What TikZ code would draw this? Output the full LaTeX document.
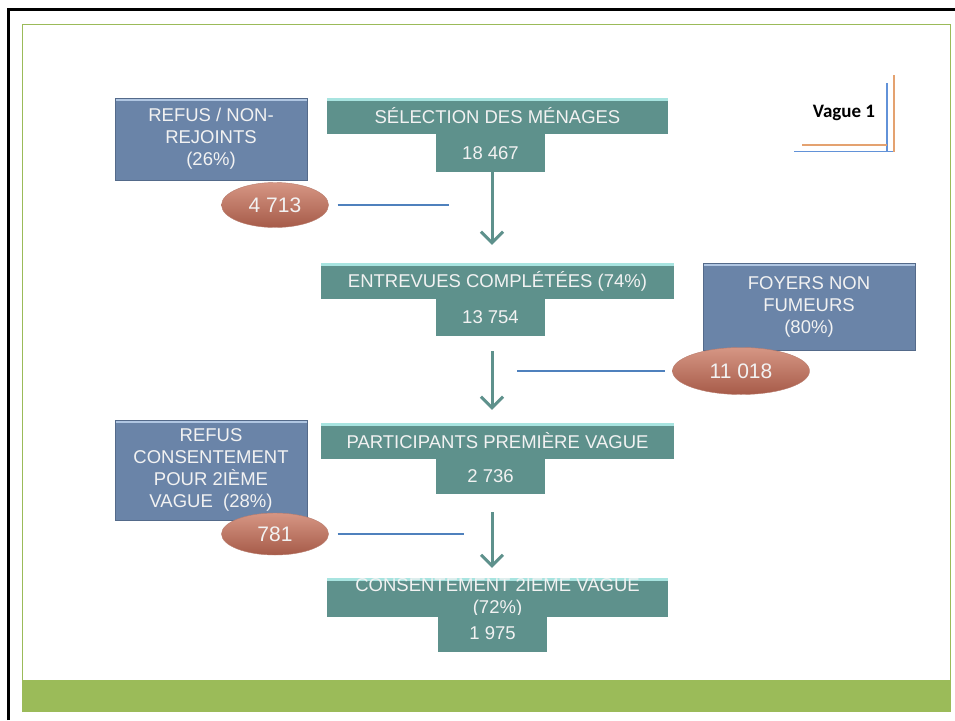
\documentclass[tikz,border=0pt]{standalone}
\usepackage{fontspec}
\setmainfont{Liberation Sans}
\newfontfamily\vaguefont{Carlito}
\usepackage{tikz}
\usetikzlibrary{arrows.meta,shapes.geometric,calc}
\definecolor{box_blue}{RGB}{106, 132, 168}
\definecolor{box_blue_light}{RGB}{176, 198, 226}
\definecolor{box_blue_dark}{RGB}{84, 106, 138}
\definecolor{band_teal}{RGB}{94, 145, 140}
\definecolor{band_teal_light}{RGB}{168, 228, 224}
\definecolor{ell_red}{RGB}{166, 91, 73}
\definecolor{ell_red_light}{RGB}{214, 150, 132}
\definecolor{link_blue}{RGB}{79, 129, 189}
\definecolor{frame_green}{RGB}{155, 187, 89}
\definecolor{tab_orange}{RGB}{228, 162, 112}
\definecolor{tab_blue}{RGB}{98, 146, 216}
\tikzstyle{bb}=[rectangle,fill=box_blue,draw=box_blue_dark,line width=0.6pt,
  text=white!95!black,inner sep=0pt,align=center,
  font=\fontsize{18.5}{22}\selectfont,
  path picture={\fill[box_blue_light] (path picture bounding box.north west)
    rectangle ([yshift=-3pt]path picture bounding box.north east);}]
\tikzstyle{tb}=[rectangle,fill=band_teal,inner sep=0pt,text=white!95!black,
  font=\fontsize{18.5}{22}\selectfont,align=center,
  path picture={\fill[band_teal_light] (path picture bounding box.north west)
    rectangle ([yshift=-3pt]path picture bounding box.north east);}]
\tikzstyle{nb}=[rectangle,fill=band_teal,inner sep=0pt,text=white!95!black,
  font=\fontsize{18.5}{22}\selectfont,minimum width=109pt]
\tikzstyle{el}=[ellipse,top color=ell_red_light,middle color=ell_red,
  bottom color=ell_red,draw=ell_red!80!white,inner sep=0pt,
  text=white!95!black,font=\fontsize{21}{24}\selectfont]
\tikzstyle{link}=[draw=link_blue,line width=2.5pt]
\tikzstyle{flow}=[draw=band_teal,line width=3pt,
  -{Straight Barb[length=11pt,width=22pt]}]
\tikzstyle{none}=[]

\begin{document}
\begin{tikzpicture}[x=1pt, y=-1pt]
            \useasboundingbox (0, 0) rectangle (955, 720);
            \fill [white] (0, 0) rectangle (955, 720);
            \draw [line width=3pt] (8, 720) -- (8, 9) -- (955, 9);
            \draw [frame_green, line width=1pt] (22.5, 712) -- (22.5, 24.5) -- (950.5, 24.5) -- (950.5, 712);
            \fill [frame_green] (22, 680) rectangle (951, 712);
            \node [style=bb, minimum width=192pt, minimum height=82pt] (0) at (211, 139) {REFUS / NON-\\REJOINTS\\(26\%)};
            \node [style=tb, minimum width=341pt, minimum height=36pt] (1) at (497.5, 116) {SÉLECTION DES MÉNAGES};
            \node [style=nb, minimum height=38pt] (2) at (490.5, 153) {18 467};
            \node [style=el, minimum width=107pt, minimum height=45pt] (3) at (275, 205) {4 713};
            \node [style=tb, minimum width=353pt, minimum height=36pt] (4) at (497.5, 281) {ENTREVUES COMPLÉTÉES (74\%)};
            \node [style=nb, minimum height=37pt] (5) at (490.5, 317.5) {13 754};
            \node [style=bb, minimum width=212pt, minimum height=87pt] (6) at (809, 306.5) {FOYERS NON\\FUMEURS\\(80\%)};
            \node [style=el, minimum width=137pt, minimum height=47pt] (7) at (741, 371) {11 018};
            \node [style=bb, minimum width=192pt, minimum height=100pt] (8) at (211, 470) {REFUS\\CONSENTEMENT\\POUR 2IÈME\\VAGUE~ (28\%)};
            \node [style=tb, minimum width=353pt, minimum height=36pt] (9) at (497.5, 441) {PARTICIPANTS PREMIÈRE VAGUE};
            \node [style=nb, minimum height=35pt] (10) at (490.5, 476.5) {2 736};
            \node [style=el, minimum width=107pt, minimum height=42pt] (11) at (275, 534) {781};
            \node [style=tb, minimum width=341pt, minimum height=37pt] (12) at (497.5, 597.5) {CONSENTEMENT 2IEME VAGUE\\(72\%)};
            \node [style=nb, minimum height=37pt] (13) at (492.5, 633.5) {1 975};
            \node [style=none, font=\vaguefont\bfseries\fontsize{19}{22}\selectfont] (14) at (844, 113) {Vague 1};
            \coordinate (15) at (449, 205);
            \coordinate (16) at (517, 371);
            \coordinate (17) at (464, 534);
            \draw [tab_blue, line width=1.2pt] (794, 151.5) -- (894, 151.5);
            \draw [tab_blue, line width=1.2pt] (887, 83) -- (887, 151.5);
            \draw [tab_orange, line width=1.2pt] (802, 145) -- (887, 145);
            \draw [tab_orange, line width=1.2pt] (894, 75) -- (894, 152);
            \draw [style=link, shorten <=9pt] (3) to (15);
            \draw [style=link, shorten >=7pt] (16) to (7);
            \draw [style=link, shorten <=9pt] (11) to (17);
            \draw [style=flow, shorten <=14pt, shorten >=18pt] ($(2)+(1.5,0)$) to ($(2 |- 4.north)+(1.5,0)$);
            \draw [style=flow, shorten <=15pt, shorten >=13pt] ($(5.south)+(1.5,0)$) to ($(5 |- 9.north)+(1.5,0)$);
            \draw [style=flow, shorten <=18pt, shorten >=10pt] ($(10.south)+(1.5,0)$) to ($(10 |- 12.north)+(1.5,0)$);
    \end{tikzpicture}
\end{document}
